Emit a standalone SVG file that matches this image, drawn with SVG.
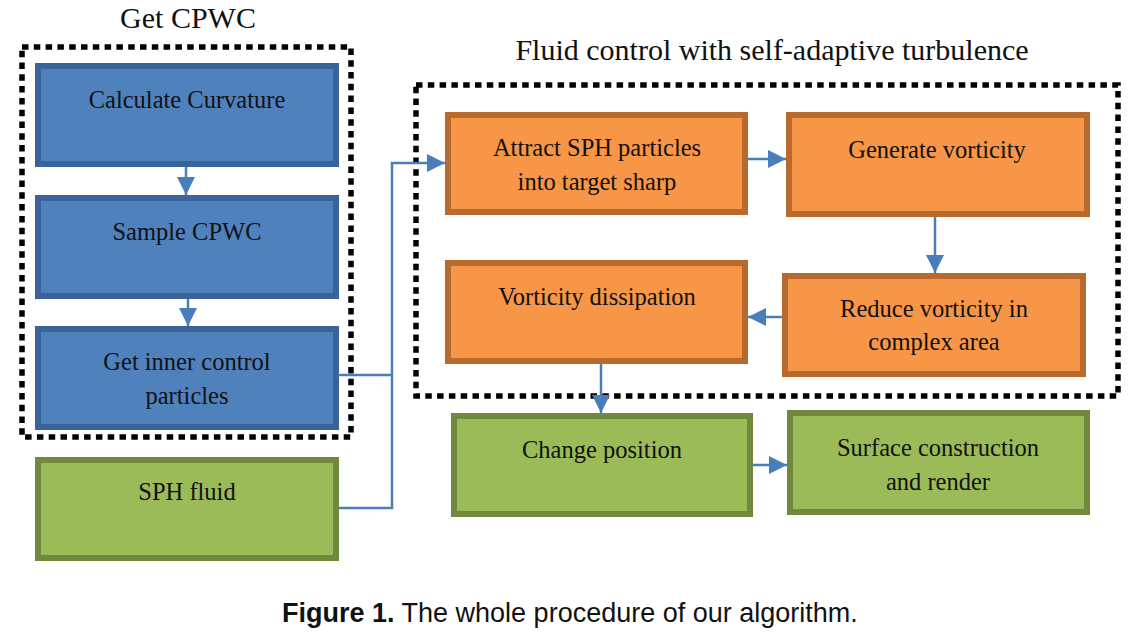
<svg xmlns="http://www.w3.org/2000/svg" width="1142" height="640" viewBox="0 0 1142 640">
<defs>
<style>
.t{font-family:"Liberation Serif","Times New Roman",serif;font-size:24.5px;fill:#111;text-anchor:middle}
.h{font-family:"Liberation Serif","Times New Roman",serif;font-size:30px;fill:#111;text-anchor:middle}
.blue{fill:#4f81bd;stroke:#3a6399;stroke-width:6}
.orange{fill:#f79646;stroke:#b8692e;stroke-width:6}
.green{fill:#9bbb59;stroke:#71893f;stroke-width:6}
.dot{fill:none;stroke:#000;stroke-width:5.5;stroke-dasharray:6.5 5.3}
.c{fill:none;stroke:#4a7ebb;stroke-width:2.5}
.cap{font-family:"Liberation Sans",Arial,sans-serif;font-size:27px;fill:#111}
</style>
<marker id="ah" markerUnits="userSpaceOnUse" markerWidth="20" markerHeight="20" viewBox="0 0 20 20" refX="19" refY="10" orient="auto">
<path d="M1,1 L19,10 L1,19 Z" fill="#4a7ebb"/>
</marker>
</defs>
<rect width="1142" height="640" fill="#fff"/>

<g id="groups">
<text class="h" x="188" y="28">Get CPWC</text>
<rect class="dot" x="22" y="47" width="329" height="390"/>
<text class="h" x="772" y="60">Fluid control with self-adaptive turbulence</text>
<rect class="dot" x="416" y="85" width="702" height="311"/>
</g>

<g id="calc">
<rect class="blue" x="38" y="66" width="298" height="98"/>
<text class="t" x="187" y="108">Calculate Curvature</text>
</g>
<g id="sample">
<rect class="blue" x="38" y="198" width="298" height="98"/>
<text class="t" x="187" y="240">Sample CPWC</text>
</g>
<g id="inner">
<rect class="blue" x="38" y="329" width="298" height="98"/>
<text class="t" x="187" y="370">Get inner control</text>
<text class="t" x="187" y="404">particles</text>
</g>
<g id="sph">
<rect class="green" x="38" y="460" width="298" height="98"/>
<text class="t" x="187" y="500">SPH fluid</text>
</g>
<g id="attract">
<rect class="orange" x="448" y="115" width="297" height="97"/>
<text class="t" x="597" y="156">Attract SPH particles</text>
<text class="t" x="597" y="190">into target sharp</text>
</g>
<g id="generate">
<rect class="orange" x="789" y="115" width="298" height="99"/>
<text class="t" x="937" y="158">Generate vorticity</text>
</g>
<g id="dissipation">
<rect class="orange" x="448" y="263" width="297" height="98"/>
<text class="t" x="597" y="305">Vorticity dissipation</text>
</g>
<g id="reduce">
<rect class="orange" x="785" y="276" width="298" height="98"/>
<text class="t" x="934" y="317">Reduce vorticity in</text>
<text class="t" x="934" y="350">complex area</text>
</g>
<g id="change">
<rect class="green" x="454" y="416" width="296" height="98"/>
<text class="t" x="602" y="458">Change position</text>
</g>
<g id="surface">
<rect class="green" x="790" y="413" width="297" height="99"/>
<text class="t" x="938" y="456">Surface construction</text>
<text class="t" x="938" y="490">and render</text>
</g>

<g id="connectors">
<line class="c" x1="186" y1="167" x2="186" y2="195" marker-end="url(#ah)"/>
<line class="c" x1="188" y1="299" x2="188" y2="326" marker-end="url(#ah)"/>
<polyline class="c" points="338,375 392,375"/>
<polyline class="c" points="339,508 392,508 392,163 445,163" marker-end="url(#ah)"/>
<line class="c" x1="748" y1="159" x2="786" y2="159" marker-end="url(#ah)"/>
<line class="c" x1="935" y1="217" x2="935" y2="273" marker-end="url(#ah)"/>
<line class="c" x1="782" y1="317" x2="748" y2="317" marker-end="url(#ah)"/>
<line class="c" x1="601" y1="364" x2="601" y2="413" marker-end="url(#ah)"/>
<line class="c" x1="753" y1="465" x2="787" y2="465" marker-end="url(#ah)"/>
</g>

<text class="cap" x="282" y="622"><tspan font-weight="bold">Figure 1.</tspan> The whole procedure of our algorithm.</text>
</svg>
